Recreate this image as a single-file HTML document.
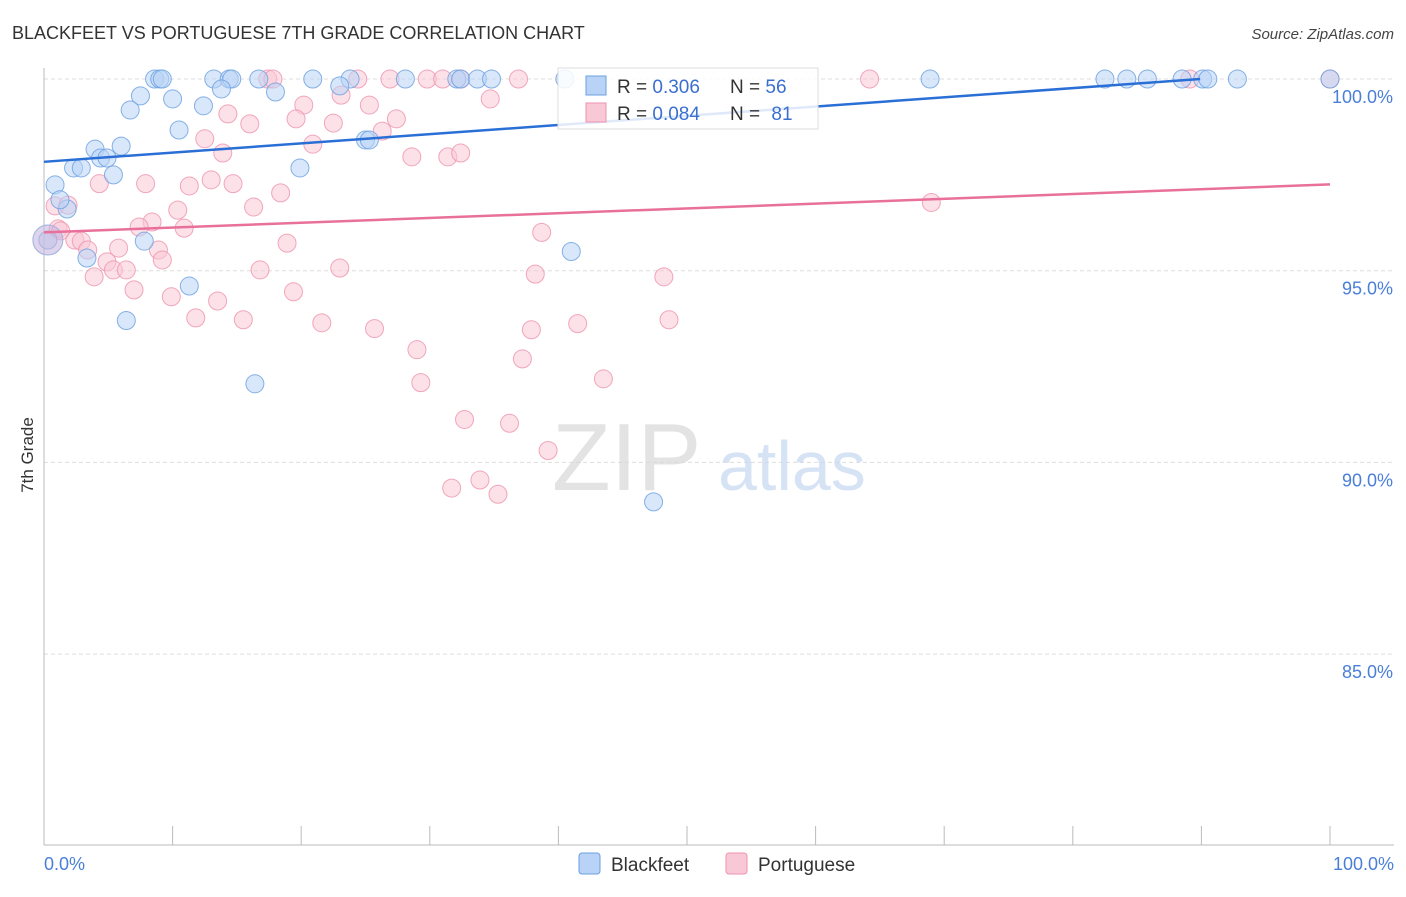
<!DOCTYPE html>
<html><head><meta charset="utf-8"><style>
body{margin:0;background:#fff;font-family:"Liberation Sans",sans-serif;}
svg text{font-family:"Liberation Sans",sans-serif;}
</style></head><body>
<svg id="chart" width="1406" height="892" viewBox="0 0 1406 892" xmlns="http://www.w3.org/2000/svg">
<text x="12" y="39" font-size="18" fill="#333">BLACKFEET VS PORTUGUESE 7TH GRADE CORRELATION CHART</text>
<text x="1394" y="39" font-size="15" fill="#444" font-style="italic" text-anchor="end">Source: ZipAtlas.com</text>
<text transform="translate(33,455) rotate(-90)" font-size="17" fill="#333" text-anchor="middle">7th Grade</text>
<g id="grid"></g>
<g id="axes"></g>
<text x="552" y="490" font-size="96" font-family="Liberation Serif" fill="#d8d8d8" opacity="0.7">ZIP</text>
<text x="718" y="490" font-size="70" fill="#c5d8f0" opacity="0.7">atlas</text>
<g id="pts"></g>
<g id="lines"></g>
<g>
<rect x="558" y="68" width="260" height="61" fill="#fff" fill-opacity="0.85" stroke="#ddd"/>
<rect x="586" y="76" width="20" height="19" fill="#b8d3f5" stroke="#6a9fe0"/>
<rect x="586" y="103" width="20" height="19" fill="#f9c8d6" stroke="#ee92ad"/>
<text x="617" y="93" font-size="19" fill="#333">R = <tspan fill="#3a6fd0">0.306</tspan></text>
<text x="730" y="93" font-size="19" fill="#333">N = <tspan fill="#3a6fd0">56</tspan></text>
<text x="617" y="120" font-size="19" fill="#333">R = <tspan fill="#3a6fd0">0.084</tspan></text>
<text x="730" y="120" font-size="19" fill="#333">N = <tspan fill="#3a6fd0" dx="6">81</tspan></text>
</g>
<g>
<rect x="579" y="853" width="21" height="21" rx="3" fill="#b8d3f5" stroke="#6a9fe0"/>
<text x="611" y="871" font-size="19" fill="#333">Blackfeet</text>
<rect x="726" y="853" width="21" height="21" rx="3" fill="#f9c8d6" stroke="#ee92ad"/>
<text x="758" y="871" font-size="19" fill="#333">Portuguese</text>
</g>
</svg>
<script>
const bluePts=[[8.6,100],[9.0,100],[9.2,100],[13.2,100],[14.4,100],[14.6,100],[16.7,100],[20.9,100],[23.8,100],[28.1,100],[32.1,100],[32.4,100],[33.7,100],[34.8,100],[40.5,100],[68.9,100],[82.5,100],[84.2,100],[85.8,100],[88.5,100],[90.1,100],[90.5,100],[92.8,100],[100,100],
[13.8,99.74],[18.0,99.66],[23.0,99.82],[7.5,99.56],[10.0,99.48],[6.7,99.19],[12.4,99.3],[10.5,98.67],[25.0,98.41],[25.3,98.41],
[3.97,98.17],[6.0,98.25],[2.3,97.68],[2.9,97.68],[4.4,97.94],[4.9,97.94],[5.4,97.5],[0.86,97.24],[19.9,97.68],[1.8,96.61],[1.24,96.85],
[7.8,95.77],[3.34,95.33],[0.3,95.8],[11.3,94.6],[6.4,93.7],[41.0,95.5],[16.4,92.05],[47.4,88.97]];
const pinkPts=[[17.4,100],[17.8,100],[24.4,100],[26.9,100],[29.8,100],[31.0,100],[32.4,100],[36.9,100],[64.2,100],[89.1,100],[100,100],[23.1,99.58],[20.2,99.32],[25.3,99.32],[34.7,99.48],[12.5,98.44],[14.3,99.09],[16.0,98.83],[19.6,98.96],[22.5,98.85],[27.4,98.96],[26.3,98.64],[20.9,98.3],[13.9,98.07],[28.6,97.97],[31.4,97.97],[32.4,98.07],
[4.3,97.27],[7.9,97.27],[11.3,97.21],[13.0,97.37],[14.7,97.27],[18.4,97.03],[10.4,96.58],[8.4,96.27],[7.4,96.14],[10.9,96.11],[16.3,96.66],[0.86,96.69],[1.87,96.71],[1.1,96.09],[1.3,96.04],[2.4,95.8],[2.9,95.77],[3.4,95.54],[5.8,95.59],[8.9,95.54],[9.2,95.28],[4.9,95.23],[5.4,95.02],[6.4,95.02],[3.9,94.84],[7.0,94.5],[9.9,94.32],[13.5,94.21],[11.8,93.77],[15.5,93.72],[16.8,95.02],[18.9,95.72],[19.4,94.45],[21.6,93.64],[23.0,95.07],[25.7,93.49],[38.7,96.0],[38.2,94.91],[48.2,94.84],[69.0,96.78],[37.2,92.7],[37.9,93.46],[41.5,93.62],[48.6,93.72],[29.0,92.94],[29.3,92.08],[43.5,92.18],[32.7,91.12],[36.2,91.02],[39.2,90.31],[31.7,89.33],[33.9,89.54],[35.3,89.17]];
const blueTrend=[[0,97.84],[89.9,100]];
const pinkTrend=[[0,96.0],[100,97.25]];
const yTicks=[100,95,90,85];
const NS='http://www.w3.org/2000/svg';
const X=v=>44+v*12.86, Y=v=>79+(100-v)*38.34;
function mk(t,a,p){const e=document.createElementNS(NS,t);for(const k in a)e.setAttribute(k,a[k]);p.appendChild(e);return e;}
const grid=document.getElementById('grid'),axes=document.getElementById('axes');
yTicks.forEach(t=>{
 const l=mk('line',{x1:44,x2:1394,y1:Y(t),y2:Y(t),stroke:'#ddd','stroke-dasharray':'4 3'},grid);
 
 
 const tx=mk('text',{x:1393,y:Y(t)+24,'font-size':18,fill:'#4a7fd8','text-anchor':'end'},axes);
 tx.textContent=t.toFixed(1)+'%';
 
 
});
mk('line',{x1:44,x2:44,y1:68,y2:845,stroke:'#bbb'},axes);
mk('line',{x1:44,x2:1394,y1:845,y2:845,stroke:'#bbb'},axes);
for(let i=1;i<=10;i++){mk('line',{x1:44+i*128.6,x2:44+i*128.6,y1:826,y2:845,stroke:'#bbb'},axes);}
const x0=mk('text',{x:44,y:870,'font-size':18,fill:'#4a7fd8'},axes);x0.textContent='0.0%';

const x1=mk('text',{x:1394,y:870,'font-size':18,fill:'#4a7fd8','text-anchor':'end'},axes);x1.textContent='100.0%';

const pts=document.getElementById('pts');
pinkPts.forEach(d=>{const c=mk('circle',{cx:X(d[0]),cy:Y(d[1]),r:9,fill:'#f9c8d6','fill-opacity':0.55,stroke:'#ee92ad','stroke-opacity':0.8},pts);
 
 });
bluePts.forEach(d=>{const c=mk('circle',{cx:X(d[0]),cy:Y(d[1]),r:9,fill:'#b8d3f5','fill-opacity':0.55,stroke:'#6a9fe0','stroke-opacity':0.8},pts);
 
 });
const big=mk('circle',{cx:X(0.3),cy:Y(95.8),r:15,fill:'#c8b8dd','fill-opacity':0.6,stroke:'#9fb0e0'},pts);


const lines=document.getElementById('lines');
const lb=mk('line',{x1:X(blueTrend[0][0]),y1:Y(blueTrend[0][1]),x2:X(blueTrend[1][0]),y2:Y(blueTrend[1][1]),stroke:'#2a6fd6','stroke-width':2.5},lines);


const lp=mk('line',{x1:X(pinkTrend[0][0]),y1:Y(pinkTrend[0][1]),x2:X(pinkTrend[1][0]),y2:Y(pinkTrend[1][1]),stroke:'#e8709a','stroke-width':2.5},lines);


</script>
</body></html>
